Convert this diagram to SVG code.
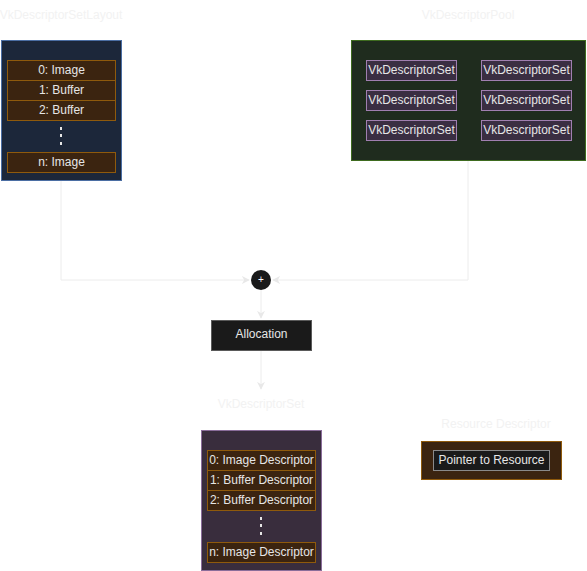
<svg xmlns="http://www.w3.org/2000/svg" width="587" height="571" viewBox="0 0 587 571">
<defs>
<marker id="arr" viewBox="0 0 10 10" refX="9" refY="5" markerWidth="8" markerHeight="8" markerUnits="userSpaceOnUse" orient="auto">
<path d="M0,0 L10,5 L0,10 L3,5 Z" fill="#e8e8e8"/>
</marker>
<style>
text{font-family:"Liberation Sans",Arial,sans-serif;font-size:12px;text-anchor:middle;dominant-baseline:central}
.title{fill:#f2f2f2}
.lt{fill:#e6e6e6}
.item{fill:#3b2410;stroke:#8f5a0c;stroke-width:1}
.set{fill:#3a2e42;stroke:#a07fb0;stroke-width:1}
.conn{fill:none;stroke:#ececec;stroke-width:1}
.dot{fill:#e6e6e6}
</style>
</defs>
<rect width="587" height="571" fill="#ffffff"/>
<g id="connectors">
<path class="conn" d="M61,180 V280 H249" marker-end="url(#arr)"/>
<path class="conn" d="M468,160 V280 H273" marker-end="url(#arr)"/>
<path class="conn" d="M261,290 V318" marker-end="url(#arr)"/>
<path class="conn" d="M261,350 V389" marker-end="url(#arr)"/>
</g>
<g id="layout">
<text class="title" x="61" y="15">VkDescriptorSetLayout</text>
<rect x="1.5" y="40.5" width="120" height="140" fill="#1c273a" stroke="#4b6ea3"/>
<rect class="item" x="7.5" y="60.5" width="108" height="20"/>
<text class="lt" x="61.5" y="69.5">0: Image</text>
<rect class="item" x="7.5" y="80.5" width="108" height="20"/>
<text class="lt" x="61.5" y="89.5">1: Buffer</text>
<rect class="item" x="7.5" y="100.5" width="108" height="20"/>
<text class="lt" x="61.5" y="109.5">2: Buffer</text>
<rect class="dot" x="60" y="127" width="2" height="3"/>
<rect class="dot" x="60" y="134" width="2" height="3"/>
<rect class="dot" x="60" y="142" width="2" height="3"/>
<rect class="item" x="7.5" y="152.5" width="108" height="20"/>
<text class="lt" x="61.5" y="161.5">n: Image</text>
</g>
<g id="pool">
<text class="title" x="468" y="15">VkDescriptorPool</text>
<rect x="351.5" y="40.5" width="234" height="120" fill="#1f2c1e" stroke="#3e6b1f"/>
<rect class="set" x="366.5" y="60.5" width="90" height="20"/>
<text class="lt" x="411.5" y="69.5">VkDescriptorSet</text>
<rect class="set" x="481.5" y="60.5" width="90" height="20"/>
<text class="lt" x="526.5" y="69.5">VkDescriptorSet</text>
<rect class="set" x="366.5" y="90.5" width="90" height="20"/>
<text class="lt" x="411.5" y="99.5">VkDescriptorSet</text>
<rect class="set" x="481.5" y="90.5" width="90" height="20"/>
<text class="lt" x="526.5" y="99.5">VkDescriptorSet</text>
<rect class="set" x="366.5" y="120.5" width="90" height="20"/>
<text class="lt" x="411.5" y="129.5">VkDescriptorSet</text>
<rect class="set" x="481.5" y="120.5" width="90" height="20"/>
<text class="lt" x="526.5" y="129.5">VkDescriptorSet</text>
</g>
<g id="plus">
<circle cx="261" cy="280" r="10" fill="#1a1a1a"/>
<text x="261" y="279.5" fill="#ffffff" style="font-size:10px">+</text>
</g>
<g id="allocation">
<rect x="211.5" y="320.5" width="100" height="30" fill="#1a1a1a" stroke="#5a5a5a"/>
<text class="lt" x="261.5" y="334">Allocation</text>
</g>
<g id="descriptorset">
<text class="title" x="261" y="404">VkDescriptorSet</text>
<rect x="201.5" y="430.5" width="120" height="140" fill="#392d3d" stroke="#8a6d9a"/>
<rect class="item" x="207.5" y="450.5" width="108" height="20"/>
<text class="lt" x="261.5" y="459.5">0: Image Descriptor</text>
<rect class="item" x="207.5" y="470.5" width="108" height="20"/>
<text class="lt" x="261.5" y="479.5">1: Buffer Descriptor</text>
<rect class="item" x="207.5" y="490.5" width="108" height="20"/>
<text class="lt" x="261.5" y="499.5">2: Buffer Descriptor</text>
<rect class="dot" x="260" y="517" width="2" height="3"/>
<rect class="dot" x="260" y="524" width="2" height="3"/>
<rect class="dot" x="260" y="532" width="2" height="3"/>
<rect class="item" x="207.5" y="542.5" width="108" height="20"/>
<text class="lt" x="261.5" y="551.5">n: Image Descriptor</text>
</g>
<g id="resource">
<text class="title" x="496" y="424">Resource Descriptor</text>
<rect x="421.5" y="441.5" width="140" height="38" fill="#3b2410" stroke="#8f5a0c"/>
<rect x="433.5" y="450.5" width="116" height="20" fill="#1a1a1a" stroke="#8a8a8a"/>
<text class="lt" x="491.5" y="459.5">Pointer to Resource</text>
</g>
</svg>
